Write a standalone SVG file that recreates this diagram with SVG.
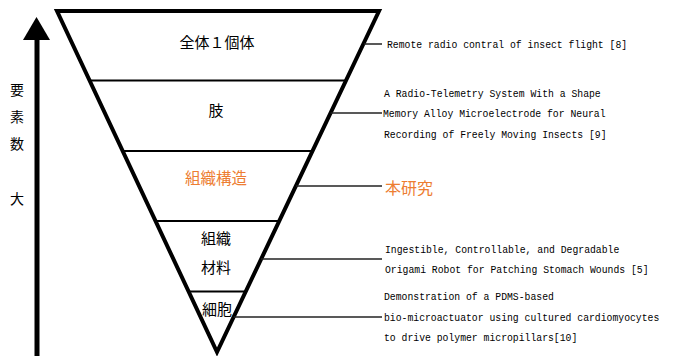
<svg xmlns="http://www.w3.org/2000/svg" width="674" height="356" viewBox="0 0 674 356">
<style>
.jp{font-family:"Noto Sans CJK JP","Noto Sans",sans-serif;fill:#000;text-anchor:middle}
.or{fill:#ED7D31}
.en{font-family:"Liberation Mono","DejaVu Sans Mono",monospace;font-size:11.5px;fill:#000}
.conn{stroke:#222;stroke-width:1.5;fill:none}
.tier{stroke:#000;stroke-width:2.2}
</style>
<rect width="674" height="356" fill="#fff"/>
<g id="axis">
<line x1="37" y1="38" x2="37" y2="360" stroke="#000" stroke-width="5"/>
<polygon points="23,40 50,40 36.5,17" fill="#000"/>
<g class="jp" style="font-size:14px">
<text x="17" y="95.3">要</text>
<text x="17" y="122.3">素</text>
<text x="17" y="149.3">数</text>
<text x="17" y="204.3">大</text>
</g>
</g>
<g id="pyramid">
<polygon points="57,11 379,11 217,352" fill="#fff" stroke="#000" stroke-width="4"/>
<line class="tier" x1="89.9" y1="80.5" x2="346" y2="80.5"/>
<line class="tier" x1="122.7" y1="151" x2="312.5" y2="151"/>
<line class="tier" x1="155.5" y1="221" x2="279.3" y2="221"/>
<line class="tier" x1="188.6" y1="291.5" x2="245.8" y2="291.5"/>
</g>
<g id="tier1"><text class="jp" x="217" y="47.7" style="font-size:15px">全体１個体</text></g>
<g id="tier2"><text class="jp" x="216" y="115.7" style="font-size:15px">肢</text></g>
<g id="tier3"><text class="jp or" x="216" y="183.7" style="font-size:15.5px">組織構造</text></g>
<g id="tier4"><text class="jp" x="216" y="243.7" style="font-size:15px">組織</text><text class="jp" x="216" y="272.7" style="font-size:15px">材料</text></g>
<g id="tier5"><text class="jp" x="217" y="314.7" style="font-size:15px">細胞</text></g>
<g id="connectors">
<line class="conn" x1="364" y1="44" x2="382" y2="44"/>
<line class="conn" x1="330.5" y1="113" x2="382" y2="113"/>
<line class="conn" x1="296" y1="186" x2="382" y2="186"/>
<line class="conn" x1="261" y1="259" x2="382" y2="259"/>
<line class="conn" x1="233.6" y1="317" x2="382" y2="317"/>
</g>
<g id="ref8"><text class="en" transform="translate(387,48) scale(0.85,1)">Remote radio contral of insect flight [8]</text></g>
<g id="ref9">
<text class="en" transform="translate(384,96.7) scale(0.85,1)">A Radio-Telemetry System With a Shape</text>
<text class="en" transform="translate(383,117.3) scale(0.85,1)">Memory Alloy Microelectrode for Neural</text>
<text class="en" transform="translate(384,138) scale(0.85,1)">Recording of Freely Moving Insects [9]</text>
</g>
<g id="thiswork"><text class="jp or" x="385" y="193.8" style="font-size:16px;text-anchor:start">本研究</text></g>
<g id="ref5">
<text class="en" transform="translate(385,253.3) scale(0.85,1)">Ingestible, Controllable, and Degradable</text>
<text class="en" transform="translate(385,273.3) scale(0.85,1)">Origami Robot for Patching Stomach Wounds [5]</text>
</g>
<g id="ref10">
<text class="en" transform="translate(384,300) scale(0.85,1)">Demonstration of a PDMS-based</text>
<text class="en" transform="translate(384,320.7) scale(0.85,1)">bio-microactuator using cultured cardiomyocytes</text>
<text class="en" transform="translate(384,340.7) scale(0.85,1)">to drive polymer micropillars[10]</text>
</g>
</svg>
